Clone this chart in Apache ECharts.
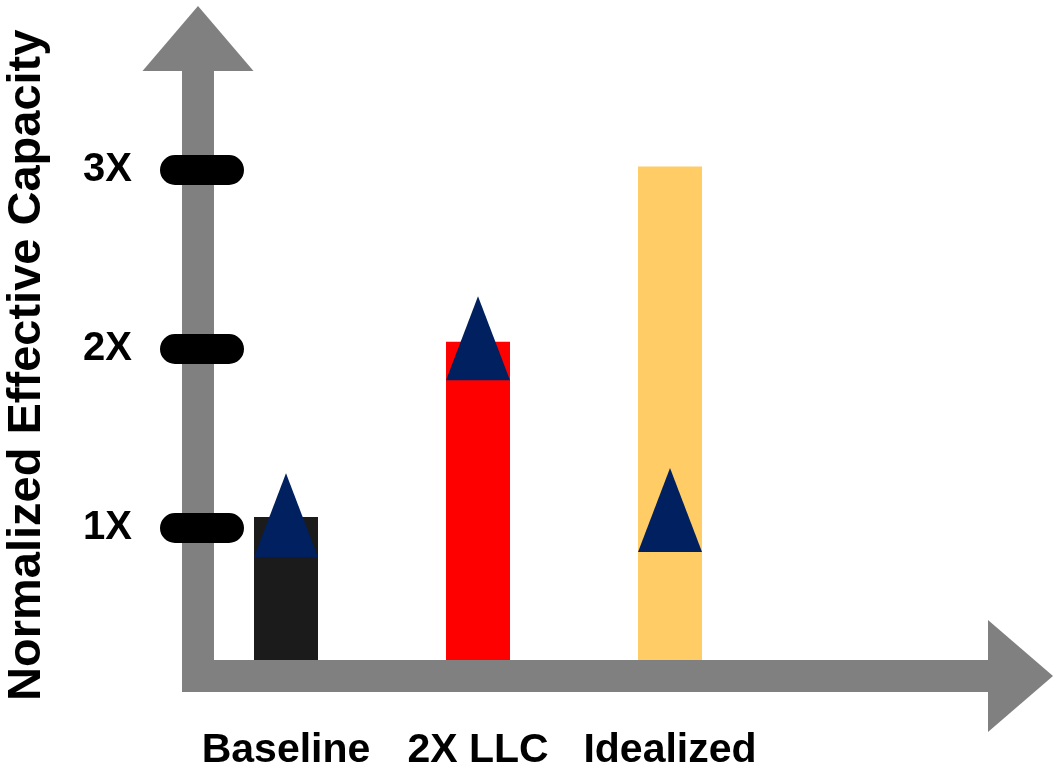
<!DOCTYPE html>
<html>
<head>
<meta charset="utf-8">
<script src="https://cdn.jsdelivr.net/npm/echarts@6/dist/echarts.min.js"></script>
<style>
  html, body { margin: 0; padding: 0; background: #ffffff; }
  #chart { width: 1057px; height: 771px; }
</style>
</head>
<body>
<div id="chart"></div>
<script>
// Configurations along the horizontal axis
const categories = ['Baseline', '2X LLC', 'Idealized'];
// Bar height: normalized effective capacity (in multiples of baseline)
const capacity = [1.06, 2.04, 3.02];
// Triangle marker level for each configuration
const markerLevel = [1.07, 2.06, 1.10];
// Labeled capacity levels on the vertical axis
const tickValues = [1, 2, 3];
const tickLabels = ['1X', '2X', '3X'];

const barColors = ['#1b1b1b', '#ff0000', '#ffcc66'];
const markerColor = '#002060';
const axisGray = '#808080';
const FONT = '"Liberation Sans", Arial, Helvetica, sans-serif';

const chart = echarts.init(document.getElementById('chart'));

const yMin = 0.1716, yMax = 3.6456;

chart.setOption({
  animation: false,
  backgroundColor: '#ffffff',
  grid: {
    left: 198, right: 52.5, top: 54.5, bottom: 95,
    containLabel: false,
    outerBoundsMode: 'none'
  },
  xAxis: {
    type: 'value',
    min: -0.4583,
    max: 3.742,
    z: 10,
    splitLine: { show: false },
    axisTick: { show: false },
    axisLine: {
      show: true,
      onZero: false,
      symbol: ['none', 'triangle'],
      symbolSize: [112, 65],
      symbolOffset: [0, 16],
      lineStyle: { color: axisGray, width: 32, cap: 'square' }
    },
    axisLabel: {
      customValues: categories.map((c, i) => i),
      formatter: v => categories[Math.round(v)],
      margin: 54,
      fontFamily: FONT,
      fontSize: 41,
      fontWeight: 'bold',
      color: '#000000'
    }
  },
  yAxis: [
    {
      type: 'value',
      min: yMin,
      max: yMax,
      z: 10,
      splitLine: { show: false },
      axisTick: { show: false },
      axisLabel: { show: false },
      axisLine: {
        show: true,
        onZero: false,
        symbol: ['none', 'triangle'],
        symbolSize: [111, 65],
        symbolOffset: [0, 16],
        lineStyle: { color: axisGray, width: 32, cap: 'square' }
      },
      name: 'Normalized Effective Capacity',
      nameLocation: 'middle',
      nameRotate: 90,
      nameGap: 147,
      nameTextStyle: {
        fontFamily: FONT,
        fontSize: 47,
        fontWeight: 'bold',
        color: '#000000'
      }
    },
    {
      // Rounded black level marks with their labels
      type: 'value',
      min: yMin,
      max: yMax,
      position: 'left',
      offset: -31,
      z: 11,
      splitLine: { show: false },
      axisLine: { show: false, onZero: false },
      axisTick: {
        show: true,
        customValues: tickValues,
        length: 54,
        lineStyle: { color: '#000000', width: 30, cap: 'round' }
      },
      axisLabel: {
        customValues: tickValues,
        formatter: v => tickLabels[tickValues.indexOf(v)],
        margin: 97,
        padding: [0, 0, 6, 0],
        fontFamily: FONT,
        fontSize: 40,
        fontWeight: 'bold',
        color: '#000000'
      }
    }
  ],
  series: [
    {
      type: 'bar',
      xAxisIndex: 0,
      yAxisIndex: 0,
      barWidth: 64,
      clip: true,
      z: 2,
      data: categories.map((c, i) => ({
        name: c,
        value: [i, capacity[i]],
        itemStyle: { color: barColors[i] }
      }))
    },
    {
      type: 'scatter',
      xAxisIndex: 0,
      yAxisIndex: 0,
      symbol: 'triangle',
      symbolSize: [64, 84],
      z: 3,
      itemStyle: { color: markerColor, opacity: 1 },
      data: markerLevel.map((v, i) => [i, v])
    }
  ]
});
</script>
</body>
</html>
